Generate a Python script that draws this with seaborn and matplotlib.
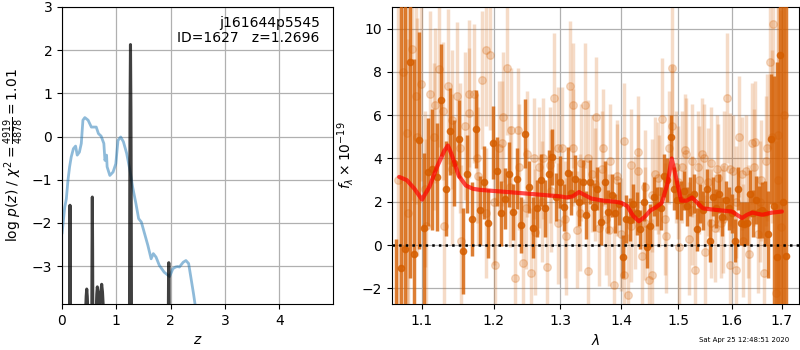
import numpy as np
import matplotlib
matplotlib.use("Agg")
import matplotlib.pyplot as plt
import seaborn as sns

# log p(z) from chi2 (blue) and the full p(z) (black)
chi_z = [0, 0.05, 0.08, 0.11, 0.14, 0.17, 0.21, 0.25, 0.28, 0.32,
         0.355, 0.385, 0.42, 0.48, 0.54, 0.63, 0.67, 0.72, 0.77, 0.79,
         0.82, 0.83, 0.88, 0.94, 0.99, 1.03, 1.08, 1.13, 1.19, 1.25,
         1.30, 1.36, 1.41, 1.46, 1.52, 1.58, 1.64, 1.68, 1.73, 1.79,
         1.88, 1.98, 2.04, 2.09, 2.13, 2.16, 2.23, 2.28, 2.33, 2.37,
         2.42, 2.45, 2.6, 3.0, 4.0, 5.0]
chi_logp = [-2.25, -1.64, -1.44, -1.01, -0.70, -0.47, -0.28, -0.22, -0.43, -0.36,
            -0.16, 0.38, 0.44, 0.38, 0.22, 0.22, 0.07, 0.01, -0.16, -0.55,
            -0.43, -0.70, -0.90, -0.82, -0.63, -0.09, -0.01, -0.12, -0.39, -0.78,
            -1.17, -1.55, -1.90, -1.98, -2.25, -2.52, -2.83, -2.71, -2.79, -2.98,
            -3.14, -3.24, -3.06, -3.02, -3.01, -3.02, -2.91, -2.87, -2.94, -3.25,
            -3.64, -3.9, -5.0, -8.0, -14.0, -20.0]

pz_z = [0.0, 0.13, 0.142, 0.147, 0.152, 0.165,
        0.43, 0.445, 0.455, 0.465, 0.48,
        0.54, 0.553, 0.558, 0.563, 0.575,
        0.625, 0.64, 0.65, 0.665, 0.69, 0.715, 0.73, 0.745, 0.77,
        1.23, 1.242, 1.247, 1.252, 1.26, 1.268, 1.273, 1.278, 1.29,
        1.945, 1.96, 1.965, 1.97, 1.985, 5.0]
pz_logp = [-9, -7, -2.8, -1.59, -2.8, -7,
           -4.2, -3.7, -3.53, -3.7, -4.2,
           -7, -2.6, -1.40, -2.6, -7,
           -4.2, -3.65, -3.48, -3.65, -4.0, -3.6, -3.42, -3.6, -4.2,
           -9, -3.9, -1.25, 0.63, 2.13, 0.63, -1.25, -3.9, -9,
           -7, -3.4, -2.92, -3.4, -7, -9]

# G141 spectrum, strong (dark) points
d_wave = [1.066, 1.072, 1.078, 1.084, 1.090, 1.096, 1.102, 1.108, 1.114, 1.120,
          1.126, 1.132, 1.138, 1.144, 1.150, 1.156, 1.162, 1.168, 1.174, 1.180,
          1.186, 1.192, 1.198, 1.204, 1.210, 1.216, 1.222, 1.228, 1.234, 1.240,
          1.246, 1.252, 1.258, 1.264, 1.270, 1.276, 1.282, 1.288, 1.294, 1.300,
          1.306, 1.312, 1.318, 1.324, 1.330, 1.336, 1.342, 1.348, 1.354, 1.360,
          1.366, 1.372, 1.378, 1.384, 1.390, 1.396, 1.402, 1.408, 1.414, 1.420,
          1.426, 1.432, 1.438, 1.444, 1.450, 1.456, 1.462, 1.468, 1.474, 1.480,
          1.486, 1.492, 1.498, 1.504, 1.510, 1.516, 1.522, 1.528, 1.534, 1.540,
          1.546, 1.552, 1.558, 1.564, 1.570, 1.576, 1.582, 1.588, 1.594, 1.600,
          1.606, 1.612, 1.618, 1.624, 1.630, 1.636, 1.642, 1.648, 1.654, 1.660,
          1.666, 1.672, 1.678, 1.684, 1.690, 1.696, 1.702, 1.708]
d_flux = [-3.0, -1.07, -0.2, 8.48, -0.41, 4.84, 0.77, 3.38, 3.5, 3.15,
          6.71, 2.6, 5.25, 3.8, 4.9, -0.28, 3.3, 1.2, 5.35, 1.6,
          2.9, 1.0, 4.73, 3.4, 1.46, 2.15, 3.27, 1.54, 3.07, 0.92,
          5.15, 2.69, 0.8, 1.69, 3.0, 1.69, 3.3, 4.07, 2.23, 2.9,
          1.74, 3.33, 2.41, 3.07, 2.0, 2.92, 1.38, 2.92, 1.77, 2.61,
          1.08, 2.9, 1.54, 2.3, 1.46, 1.92, -0.54, 1.2, 1.18, 1.9,
          1.46, 0.72, 2.0, -0.08, 0.9, 2.23, 1.8, 1.69, 3.2, 3.0,
          5.0, 2.6, 2.1, 2.07, 2.5, 1.8, 2.23, 2.38, 0.72, 1.9,
          1.61, 2.6, 0.2, 2.23, 1.7, 2.38, 1.3, 2.07, 1.7, 1.46,
          0.2, 2.61, 1.0, 0.97, 1.0, 2.38, 1.46, 2.07, 1.54, 1.61,
          1.46, 0.5, 4.92, 1.8, -0.54, 8.76, 2.0, -0.5]
d_err = [3.3, 14, 12, 10, 9, 5, 3.5, 2.5, 2.8, 2.5,
         2.6, 2.2, 2.0, 2.0, 1.8, 2.0, 1.8, 1.7, 1.8, 1.6,
         1.7, 1.6, 1.7, 1.6, 1.5, 1.4, 1.5, 1.3, 1.4, 1.3,
         1.6, 1.2, 1.4, 1.3, 1.2, 1.3, 1.1, 1.3, 1.1, 1.2,
         1.1, 1.2, 1.0, 1.1, 1.1, 1.0, 1.1, 1.0, 1.1, 1.0,
         1.1, 1.0, 1.0, 1.0, 0.9, 1.0, 1.0, 1.1, 1.0, 0.9,
         1.0, 0.9, 0.9, 1.0, 1.0, 0.9, 0.9, 1.0, 1.0, 1.0,
         1.0, 1.0, 0.9, 0.9, 0.9, 0.9, 0.9, 0.9, 1.0, 0.9,
         0.9, 0.9, 1.0, 0.9, 0.9, 0.9, 0.9, 0.9, 1.0, 0.9,
         1.0, 1.0, 1.0, 1.0, 1.0, 1.1, 1.1, 1.1, 1.2, 1.3,
         1.5, 2.0, 3.0, 6.0, 9.0, 12, 14, 15]

# faint points
l_wave = [1.069, 1.075, 1.081, 1.087, 1.093, 1.099, 1.105, 1.111, 1.117, 1.123,
          1.129, 1.135, 1.141, 1.147, 1.153, 1.159, 1.165, 1.171, 1.177, 1.183,
          1.189, 1.195, 1.201, 1.207, 1.213, 1.219, 1.225, 1.231, 1.237, 1.243,
          1.249, 1.255, 1.261, 1.267, 1.273, 1.279, 1.285, 1.291, 1.297, 1.303,
          1.309, 1.315, 1.321, 1.327, 1.333, 1.339, 1.345, 1.351, 1.357, 1.363,
          1.369, 1.375, 1.381, 1.387, 1.393, 1.399, 1.405, 1.411, 1.417, 1.423,
          1.429, 1.435, 1.441, 1.447, 1.453, 1.459, 1.465, 1.471, 1.477, 1.483,
          1.489, 1.495, 1.501, 1.507, 1.513, 1.519, 1.525, 1.531, 1.537, 1.543,
          1.549, 1.555, 1.561, 1.567, 1.573, 1.579, 1.585, 1.591, 1.597, 1.603,
          1.609, 1.615, 1.621, 1.627, 1.633, 1.639, 1.645, 1.651, 1.657, 1.663,
          1.669, 1.675, 1.681, 1.687, 1.693, 1.699, 1.705]
l_flux = [3.0, 8.0, 1.5, 9.07, 5.0, 7.45, 0.9, 7.0, 6.45, 8.14,
          0.9, 7.33, 3.5, 6.9, 0.2, 5.5, 7.0, 7.0, 3.2, 7.63,
          9.0, 8.8, -0.9, 4.5, 5.9, 8.2, 5.3, -1.5, 3.6, -0.85,
          4.2, -1.3, 0.6, 3.6, 4.0, -1.0, 2.5, 6.8, 1.0, 4.5,
          0.4, 7.37, 6.45, 0.7, 3.8, 6.45, -1.2, 3.3, 5.9, 0.8,
          4.5, 1.2, 3.9, -1.84, 3.0, 0.5, -1.4, -2.3, 3.7, 1.5,
          4.3, -0.5, 2.7, -1.6, -1.4, 3.3, 2.5, 5.84, 0.4, 4.5,
          8.2, 3.6, -0.1, 3.6, 4.2, 0.3, 3.9, -1.15, 3.0, 4.2,
          -0.3, 2.9, 3.8, 0.8, 3.1, 1.0, 3.6, 6.8, -0.9, 3.4,
          -1.15, 5.0, 0.2, 3.4, -0.4, 4.7, 4.77, 0.5, 3.0, -1.3,
          4.5, 8.45, 10.2, -2.2, 5.1, 0.84, 6.0]
l_err = [9, 9, 8, 7, 5.5, 4.5, 4.0, 3.8, 3.6, 3.6,
         3.6, 3.6, 3.5, 3.4, 3.5, 3.4, 3.4, 3.2, 3.2, 3.2,
         3.5, 3.5, 3.1, 3.1, 3.0, 3.1, 2.9, 3.1, 2.9, 3.0,
         2.9, 3.0, 2.9, 2.8, 2.8, 2.9, 2.8, 3.0, 2.8, 2.8,
         2.7, 3.0, 2.9, 2.7, 2.7, 2.9, 2.8, 2.7, 2.8, 2.7,
         2.7, 2.6, 2.6, 2.7, 2.6, 2.6, 2.7, 2.8, 2.6, 2.6,
         2.6, 2.6, 2.6, 2.7, 2.6, 2.6, 2.6, 2.8, 2.6, 2.6,
         3.0, 2.6, 2.6, 2.6, 2.6, 2.6, 2.6, 2.6, 2.5, 2.6,
         2.6, 2.5, 2.6, 2.5, 2.5, 2.5, 2.6, 3.0, 2.6, 2.6,
         2.6, 2.8, 2.6, 2.6, 2.6, 2.8, 2.8, 2.7, 2.8, 3.0,
         3.4, 4.0, 5.5, 7, 9, 10, 12]

# second set of faint points
l2_wave = [1.080, 1.092, 1.104, 1.116, 1.128, 1.140, 1.152, 1.164, 1.176, 1.188,
           1.200, 1.212, 1.224, 1.236, 1.248, 1.260, 1.272, 1.284, 1.296, 1.308,
           1.320, 1.332, 1.344, 1.356, 1.368, 1.380, 1.392, 1.404, 1.416, 1.428,
           1.440, 1.452, 1.464, 1.476, 1.488, 1.500, 1.512, 1.524, 1.536, 1.548,
           1.560, 1.572, 1.584, 1.596, 1.608, 1.620, 1.632, 1.644, 1.656, 1.668,
           1.680, 1.692]
l2_flux = [5.2, 6.9, 2.6, 5.0, 6.2, 5.8, 4.5, 6.1, 4.0, 1.5,
           2.0, 4.7, 2.7, 5.3, 1.7, 4.0, 2.0, 3.7, 4.5, 1.2,
           4.5, 1.5, 4.0, 2.8, 3.5, 0.7, 3.2, 4.8, 0.9, 3.4,
           1.0, 2.3, 3.1, 1.2, 5.5, 2.9, 4.4, 1.6, 3.6, 4.0,
           1.0, 3.5, 1.2, 3.5, 2.0, 3.3, 1.1, 3.6, 2.0, 3.9,
           5.0, 3.0]
l2_err = [8, 5, 3.6, 3.4, 3.2, 3.2, 3.0, 3.0, 3.0, 3.0,
          2.9, 2.9, 2.8, 2.9, 2.8, 2.8, 2.8, 2.7, 2.8, 2.7,
          2.7, 2.7, 2.7, 2.6, 2.7, 2.6, 2.6, 2.7, 2.6, 2.6,
          2.6, 2.6, 2.6, 2.6, 2.8, 2.6, 2.6, 2.5, 2.6, 2.5,
          2.5, 2.5, 2.5, 2.6, 2.6, 2.6, 2.6, 2.7, 2.8, 3.0,
          4.0, 8]

# best-fit model
model_wave = [1.07, 1.08, 1.09, 1.10, 1.11, 1.12, 1.13, 1.135, 1.14, 1.15,
              1.16, 1.17, 1.18, 1.20, 1.22, 1.24, 1.26, 1.28, 1.30, 1.31,
              1.32, 1.33, 1.34, 1.35, 1.37, 1.39, 1.40, 1.41, 1.42, 1.43,
              1.44, 1.45, 1.46, 1.47, 1.48, 1.488, 1.495, 1.505, 1.515, 1.525,
              1.535, 1.545, 1.56, 1.58, 1.60, 1.61, 1.62, 1.63, 1.64, 1.66,
              1.68, 1.70]
model_flux = [3.15, 3.0, 2.6, 2.1, 2.7, 3.6, 4.35, 4.6, 4.2, 3.2,
              2.75, 2.6, 2.55, 2.5, 2.45, 2.4, 2.35, 2.3, 2.25, 2.2,
              2.25, 2.45, 2.3, 2.15, 2.05, 2.0, 1.95, 1.8, 1.35, 1.1,
              1.3, 1.6, 1.75, 1.95, 2.8, 4.0, 3.2, 2.05, 2.05, 2.2,
              1.95, 1.7, 1.65, 1.6, 1.55, 1.4, 1.25, 1.4, 1.5, 1.4,
              1.5, 1.55]

wave_ticks = [1.1, 1.2, 1.3, 1.4, 1.5, 1.6, 1.7]
g141_color = '#D55E00'

sns.set_style("ticks", {"axes.grid": True, "grid.color": "#b0b0b0",
                        "axes.edgecolor": "black", "text.color": "black",
                        "xtick.color": "black", "ytick.color": "black",
                        "axes.labelcolor": "black"})
plt.rcParams['font.family'] = ['DejaVu Sans']
plt.rcParams['font.size'] = 10

fig = plt.figure(figsize=(8, 3.5), dpi=100)
ax1 = fig.add_axes([0.0775, 0.131, 0.339, 0.849])
ax2 = fig.add_axes([0.49, 0.131, 0.509, 0.849])

sns.lineplot(x=chi_z, y=chi_logp, ax=ax1, color='C0', alpha=0.5, lw=2)
sns.lineplot(x=pz_z, y=pz_logp, ax=ax1, color='k', alpha=0.75, lw=2.2)
ax1.set_xlim(0, 4.99)
ax1.set_ylim(-3.88, 3)
ax1.set_xticks([0, 1, 2, 3, 4])
ax1.set_yticks([-3, -2, -1, 0, 1, 2, 3])
ax1.set_xlabel(r'$z$')
ax1.set_ylabel(r'log $p(z)$ / $\chi^2=\frac{4919}{4878}=1.01$')
ax1.text(0.95, 0.97, 'j161644p5545\nID=1627   z=1.2696', transform=ax1.transAxes,
         ha='right', va='top', fontsize=10, linespacing=1.1)
ax1.grid(True, lw=0.9)

for w, f, e in [(l_wave, l_flux, l_err), (l2_wave, l2_flux, l2_err)]:
    ax2.errorbar(w, f, yerr=e, fmt='o', color=g141_color, alpha=0.22,
                 ms=5.5, elinewidth=2.5, capsize=0, zorder=2)
ax2.errorbar(d_wave, d_flux, yerr=d_err, fmt='o', color=g141_color, alpha=0.8,
             ms=4.5, elinewidth=2.5, capsize=0, zorder=3)
sns.lineplot(x=model_wave, y=model_flux, ax=ax2, color='r', alpha=0.7, lw=3, zorder=4)
ax2.axhline(0, color='k', ls=':', lw=1.8, zorder=5)
ax2.set_xscale('log')
ax2.set_xlim(1.0608, 1.736)
ax2.set_ylim(-2.73, 11)
ax2.set_xticks(wave_ticks)
ax2.set_xticklabels([str(w) for w in wave_ticks])
ax2.xaxis.set_minor_locator(matplotlib.ticker.NullLocator())
ax2.set_yticks([-2, 0, 2, 4, 6, 8, 10])
ax2.set_xlabel(r'$\lambda$')
ax2.set_ylabel(r'$f_\lambda\times10^{-19}$')
ax2.grid(True, lw=0.9)

fig.text(0.986, 0.029, 'Sat Apr 25 12:48:51 2020', ha='right', va='center', fontsize=5)

fig.savefig('out.png', dpi=100)
